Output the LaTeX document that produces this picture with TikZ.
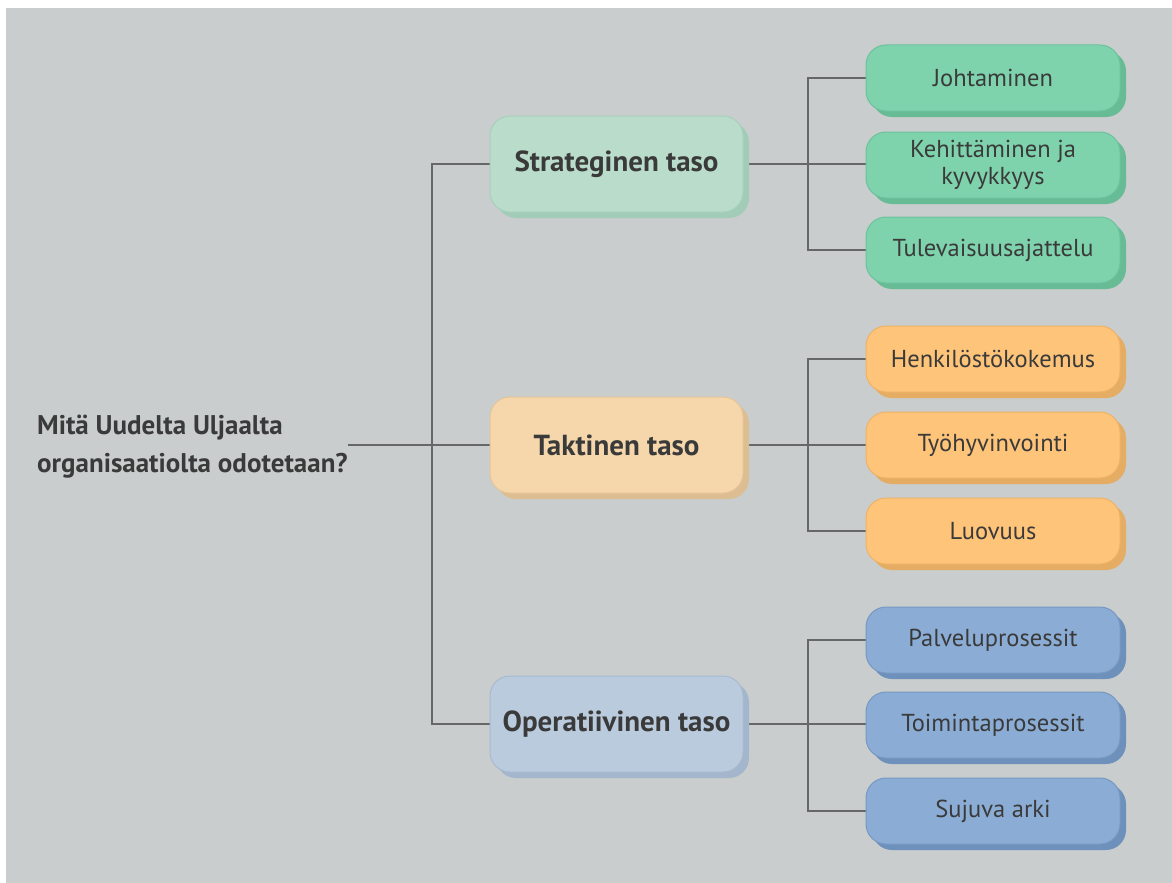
\documentclass[tikz,border=0pt]{standalone}
\usepackage{fontspec}
\setmainfont{PT Sans}
\usetikzlibrary{shadows}
\pgfdeclarelayer{back}
\pgfdeclarelayer{wires}
\pgfsetlayers{back,wires,main}

\definecolor{canvas}{HTML}{C9CDCD}
\definecolor{ink}{HTML}{3A3A3A}
\definecolor{wire}{HTML}{666868}
% level colours: fill, edge, shadow
\definecolor{gOneF}{HTML}{B9DCCB}\definecolor{gOneE}{HTML}{A6D1BC}\definecolor{gOneS}{HTML}{A2CCB8}
\definecolor{gTwoF}{HTML}{7ED3AD}\definecolor{gTwoE}{HTML}{6CC29C}\definecolor{gTwoS}{HTML}{67BC96}
\definecolor{oOneF}{HTML}{F5D7AB}\definecolor{oOneE}{HTML}{E6C596}\definecolor{oOneS}{HTML}{DDBE92}
\definecolor{oTwoF}{HTML}{FEC479}\definecolor{oTwoE}{HTML}{EEB266}\definecolor{oTwoS}{HTML}{E5AC63}
\definecolor{bOneF}{HTML}{BACBDD}\definecolor{bOneE}{HTML}{A7BACF}\definecolor{bOneS}{HTML}{A4B6CB}
\definecolor{bTwoF}{HTML}{8BADD5}\definecolor{bTwoE}{HTML}{7698C2}\definecolor{bTwoS}{HTML}{6E91BC}

\tikzset{
  box/.style={rounded corners=20pt, draw=#1E, fill=#1F, line width=1pt,
    drop shadow={shadow xshift=6pt, shadow yshift=-6pt, fill=#1S, opacity=1},
    text=ink, align=center, inner sep=0pt},
  levelbox/.style={box=#1, minimum width=253pt, minimum height=96pt,
    font=\fontsize{29}{32}\selectfont\bfseries},
  leafbox/.style={box=#1, minimum width=254pt, minimum height=66pt,
    font=\fontsize{24.5}{27}\selectfont},
  link/.style={draw=wire, line width=1.4pt},
}

\begin{document}
\begin{tikzpicture}[x=1pt,y=-1pt]
\useasboundingbox (0,0) rectangle (1172,883);
\begin{pgfonlayer}{back}
  \fill[canvas] (6,8) rectangle (1172,883);
\end{pgfonlayer}

% question
\node[anchor=west, align=left, inner sep=0pt, text=ink,
  font=\fontsize{27}{38}\selectfont\bfseries] (Q) at (37,447)
  {Mitä Uudelta Uljaalta\\organisaatiolta odotetaan?};

% three levels
\node[levelbox=gOne] (S) at (616.5,164) {Strateginen taso};
\node[levelbox=oOne] (Tk) at (616.5,445) {Taktinen taso};
\node[levelbox=bOne] (O) at (616.5,724) {Operatiivinen taso};

% strategic leaves
\node[leafbox=gTwo] (J) at (993,78) {Johtaminen};
\node[leafbox=gTwo] (K) at (993,165) {Kehittäminen ja\\kyvykkyys};
\node[leafbox=gTwo] (Tu) at (993,250) {Tulevaisuusajattelu};

% tactical leaves
\node[leafbox=oTwo] (H) at (993,359) {Henkilöstökokemus};
\node[leafbox=oTwo] (Ty) at (993,445) {Työhyvinvointi};
\node[leafbox=oTwo] (L) at (993,531) {Luovuus};

% operational leaves
\node[leafbox=bTwo] (P) at (993,640) {Palveluprosessit};
\node[leafbox=bTwo] (To) at (993,725) {Toimintaprosessit};
\node[leafbox=bTwo] (Sj) at (993,811) {Sujuva arki};

\coordinate (mbus) at (432,0);
\coordinate (lbus) at (808,0);

\begin{pgfonlayer}{wires}
  \draw[link] (Q.east |- Tk.west) -- (Tk.west);
  \draw[link] (S.west) -- (S.west -| mbus) -- (O.west -| mbus) -- (O.west);

  \draw[link] (S.east) -- (S.east -| K.west);
  \draw[link] (J.west) -- (J.west -| lbus) -- (Tu.west -| lbus) -- (Tu.west);

  \draw[link] (Tk.east) -- (Ty.west);
  \draw[link] (H.west) -- (H.west -| lbus) -- (L.west -| lbus) -- (L.west);

  \draw[link] (O.east) -- (O.east -| To.west);
  \draw[link] (P.west) -- (P.west -| lbus) -- (Sj.west -| lbus) -- (Sj.west);
\end{pgfonlayer}
\end{tikzpicture}
\end{document}
